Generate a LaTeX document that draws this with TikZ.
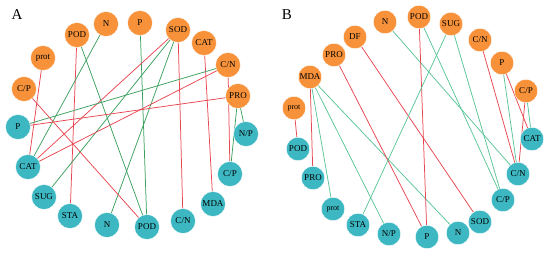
\documentclass[tikz,border=0pt]{standalone}
\usepackage{fontspec}
\setmainfont{Liberation Serif}
\usetikzlibrary{backgrounds}
\definecolor{orng}{RGB}{247,146,58}
\definecolor{teal}{RGB}{61,184,194}
\definecolor{redl}{RGB}{232,70,80}
\definecolor{grnA}{RGB}{60,160,95}
\definecolor{grnB}{RGB}{90,196,150}
\tikzset{
  onode/.style={circle,fill=orng,draw=white,line width=0.4pt,minimum size=25pt,inner sep=0pt,font=\fontsize{9}{9}\selectfont},
  cnode/.style={circle,fill=teal,draw=white,line width=0.4pt,minimum size=25pt,inner sep=0pt,font=\fontsize{9}{9}\selectfont},
  onodeB/.style={onode,minimum size=23.5pt},
  cnodeB/.style={cnode,minimum size=23.5pt},
  redge/.style={draw=redl,line width=0.75pt},
  gedge/.style={draw=grnA,line width=0.75pt},
  gedgeB/.style={draw=grnB,line width=0.75pt},
  panel/.style={font=\fontsize{15}{15}\selectfont}
}
\begin{document}
\begin{tikzpicture}[x=1pt,y=-1pt]
\useasboundingbox (0,0) rectangle (550,256);
% ---------- Panel A ----------
\node[panel] (labA) at (17,15) {A};
\node[onode] (Aprot) at (43,58) {prot};
\node[onode] (ACPo) at (24,89) {C/P};
\node[onode] (APODo) at (77,35) {POD};
\node[onode] (ANo) at (106,24) {N};
\node[onode] (APo) at (140,23) {P};
\node[onode] (ASODo) at (178,30) {SOD};
\node[onode] (ACATo) at (204,43) {CAT};
\node[onode] (ACNo) at (228,65) {C/N};
\node[onode] (APROo) at (238,96) {PRO};
\node[cnode] (APc) at (18,127) {P};
\node[cnode] (ACATc) at (28,167) {CAT};
\node[cnode] (ASUGc) at (44,197) {SUG};
\node[cnode] (ASTAc) at (70,216) {STA};
\node[cnode] (ANc) at (107,225) {N};
\node[cnode] (APODc) at (147,227) {POD};
\node[cnode] (ACNc) at (183,221) {C/N};
\node[cnode] (AMDAc) at (213,204) {MDA};
\node[cnode] (ACPc) at (230,174) {C/P};
\node[cnode] (ANPc) at (246,134) {N/P};
% ---------- Panel B ----------
\node[panel] (labB) at (287,15) {B};
\node[onodeB] (BNo) at (385,22) {N};
\node[onodeB] (BPODo) at (419,17) {POD};
\node[onodeB] (BSUGo) at (451,24) {SUG};
\node[onodeB] (BCNo) at (480,40) {C/N};
\node[onodeB] (BPo) at (502,63) {P};
\node[onodeB] (BCPo) at (526,91) {C/P};
\node[onodeB] (BDFo) at (355,37) {DF};
\node[onodeB] (BPROo) at (334,55) {PRO};
\node[onodeB] (BMDAo) at (310,77) {MDA};
\node[onodeB,font=\fontsize{8}{8}\selectfont] (Bproto) at (294,108) {prot};
\node[cnodeB] (BCATc) at (532,139) {CAT};
\node[cnodeB] (BCNc) at (518,174) {C/N};
\node[cnodeB] (BCPc) at (503,200) {C/P};
\node[cnodeB] (BSODc) at (480,222) {SOD};
\node[cnodeB] (BNc) at (458,233) {N};
\node[cnodeB] (BPc) at (427,237) {P};
\node[cnodeB] (BNPc) at (389,234) {N/P};
\node[cnodeB] (BSTAc) at (358,225) {STA};
\node[cnodeB,font=\fontsize{8}{8}\selectfont] (Bprotc) at (333,209) {prot};
\node[cnodeB] (BPROc) at (313,178) {PRO};
\node[cnodeB] (BPODc) at (298,149) {POD};
\begin{pgfonlayer}{background}
% Panel A edges
\draw[redge] (Aprot.center) -- (ACATc.center);
\draw[redge] (APODo.center) -- (ASTAc.center);
\draw[gedge] (APODo.center) -- (APODc.center);
\draw[gedge] (ANo.center) -- (ACATc.center);
\draw[gedge] (APo.center) -- (APODc.center);
\draw[redge] (ASODo.center) -- (ACNc.center);
\draw[redge] (ASODo.center) -- (ACATc.center);
\draw[gedge] (ASODo.center) -- (ASUGc.center);
\draw[gedge] (ASODo.center) -- (ANc.center);
\draw[redge] (ACATo.center) -- (AMDAc.center);
\draw[gedge] (ACNo.center) -- (APc.center);
\draw[redge] (ACNo.center) -- (ACATc.center);
\draw[redge] (ACNo.center) -- (ACPc.center);
\draw[redge] (APROo.center) -- (APc.center);
\draw[gedge] (APROo.center) -- (ACPc.center);
\draw[gedge] (APROo.center) -- (ANPc.center);
\draw[redge] (ACPo.center) -- (APODc.center);
% Panel B edges
\draw[redge] (Bproto.center) -- (BPODc.center);
\draw[redge] (BMDAo.center) -- (BPROc.center);
\draw[gedgeB] (BMDAo.center) -- (Bprotc.center);
\draw[gedgeB] (BMDAo.center) -- (BNPc.center);
\draw[gedgeB] (BMDAo.center) -- (BNc.center);
\draw[redge] (BPROo.center) -- (BPc.center);
\draw[redge] (BDFo.center) -- (BSODc.center);
\draw[gedgeB] (BNo.center) -- (BCNc.center);
\draw[redge] (BPODo.center) -- (BPc.center);
\draw[gedgeB] (BPODo.center) -- (BCPc.center);
\draw[gedgeB] (BSUGo.center) -- (BSTAc.center);
\draw[gedgeB] (BSUGo.center) -- (BCPc.center);
\draw[redge] (BCNo.center) -- (BCNc.center);
\draw[gedgeB] (BPo.center) -- (BCNc.center);
\draw[redge] (BPo.center) -- (BCATc.center);
\draw[redge] (BCPo.center) -- (BCNc.center);
\draw[gedgeB] (BCPo.center) -- (BCATc.center);
\end{pgfonlayer}
\end{tikzpicture}
\end{document}
